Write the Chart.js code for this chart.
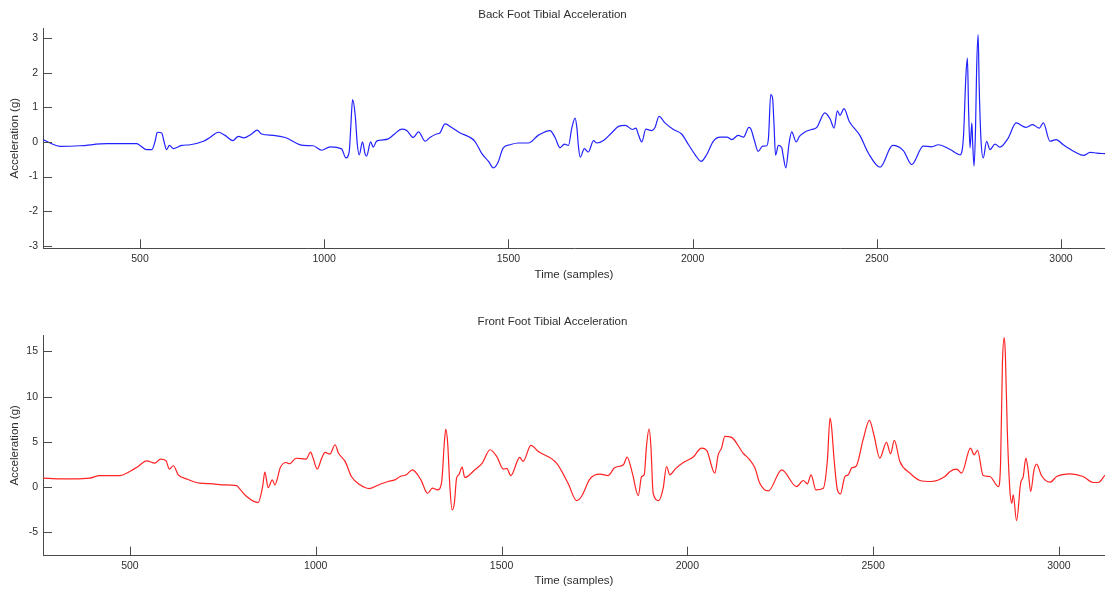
<!DOCTYPE html>
<html><head><meta charset="utf-8">
<script src="https://cdn.jsdelivr.net/npm/chart.js@4.4.1/dist/chart.umd.min.js"></script>
<style>
html,body{margin:0;padding:0;background:#fff;overflow:hidden;}
canvas{position:absolute;left:0;}
#c1{top:0;}
#c2{top:295px;}
</style></head><body>
<canvas id="c1" width="1105" height="295"></canvas>
<canvas id="c2" width="1105" height="294"></canvas>
<script>
// ---- data ----
const xTickValues = [500, 1000, 1500, 2000, 2500, 3000];
const backTickValues = [-3, -2, -1, 0, 1, 2, 3];
const frontTickValues = [-5, 0, 5, 10, 15];

const backX = [237,256,283,337,410,491,500,518,532,541,547,559,565,572,580,590,613,636,672,690,713,731,752,767,782,803,818,830,862,894,943,970,993,1016,1047,1059,1068,1072,1077,1084,1090,1095,1104,1111,1115,1126,1133,1142,1151,1174,1192,1210,1224,1242,1256,1274,1287,1305,1314,1328,1346,1369,1391,1409,1427,1446,1459,1471,1486,1504,1527,1554,1581,1613,1627,1640,1652,1663,1672,1681,1686,1690,1695,1706,1717,1731,1740,1758,1780,1799,1817,1837,1846,1853,1862,1873,1889,1898,1909,1925,1948,1970,1989,2007,2023,2038,2056,2075,2093,2106,2124,2138,2153,2158,2167,2178,2190,2201,2206,2212,2217,2221,2225,2233,2242,2246,2253,2262,2269,2281,2290,2305,2323,2337,2359,2373,2384,2393,2400,2411,2425,2454,2477,2509,2543,2572,2595,2626,2649,2667,2699,2726,2735,2742,2746,2749,2753,2758,2760,2764,2768,2771,2775,2778,2783,2789,2798,2807,2821,2834,2857,2878,2905,2923,2941,2952,2970,2987,3006,3038,3061,3079,3097,3120];
const backY = [0.07,-0.03,-0.125,-0.11,-0.05,-0.05,-0.1,-0.22,-0.22,0.02,0.28,0.26,0.02,-0.22,-0.1,-0.19,-0.1,-0.08,0.02,0.13,0.28,0.19,0.04,0.16,0.12,0.23,0.34,0.23,0.19,0.13,-0.1,-0.11,-0.24,-0.14,-0.2,-0.46,-0.27,0.4,1.22,0.79,-0.08,-0.37,0,-0.35,-0.41,0,-0.15,0.02,0.05,0.09,0.24,0.37,0.33,0.13,0.29,0.02,0.13,0.23,0.26,0.52,0.42,0.26,0.16,0.02,-0.32,-0.56,-0.75,-0.61,-0.17,-0.08,-0.03,-0.03,0.19,0.33,0.12,-0.17,-0.06,-0.1,0.4,0.69,0.4,-0.12,-0.44,-0.19,-0.29,0.04,-0.03,0.04,0.26,0.45,0.48,0.36,0.4,0.21,0,0.37,0.33,0.42,0.74,0.55,0.36,0.23,-0.08,-0.37,-0.56,-0.37,0.02,0.14,0.14,0.07,0.19,0.14,0.42,0.38,0.07,-0.27,-0.12,-0.11,0.12,1.37,1.27,0.5,-0.38,-0.1,-0.17,-0.41,-0.75,-0.03,0.29,0,0.16,0.29,0.36,0.42,0.84,0.67,0.4,0.9,0.77,0.96,0.6,0.19,-0.32,-0.73,-0.1,-0.25,-0.65,-0.12,-0.14,-0.08,-0.22,-0.37,0.12,1.94,2.42,0.98,-0.17,0.55,0.02,-0.7,0.4,2.13,3.1,1.56,0.02,-0.46,0.02,-0.22,-0.06,-0.15,0.12,0.55,0.42,0.5,0.4,0.55,0.02,0.07,-0.08,-0.29,-0.39,-0.3,-0.32,-0.34];

const frontX = [266,312,347,392,419,473,495,522,545,567,582,597,606,617,630,652,688,724,747,787,796,814,845,857,863,872,883,890,905,920,929,947,974,986,993,1004,1016,1025,1038,1052,1061,1079,1096,1119,1144,1173,1195,1213,1227,1244,1260,1283,1301,1314,1328,1339,1346,1350,1355,1361,1367,1373,1379,1385,1394,1401,1428,1448,1469,1487,1505,1514,1525,1549,1558,1579,1599,1648,1679,1702,1715,1738,1765,1787,1805,1828,1838,1852,1868,1877,1884,1890,1897,1902,1908,1923,1935,1944,1953,1967,1989,2016,2038,2052,2074,2083,2092,2101,2119,2150,2168,2182,2195,2218,2254,2294,2312,2323,2333,2346,2366,2377,2384,2388,2395,2404,2412,2424,2433,2442,2455,2473,2490,2502,2518,2536,2547,2557,2572,2599,2626,2657,2693,2707,2725,2738,2762,2772,2781,2796,2814,2837,2843,2848,2853,2856,2861,2868,2873,2877,2886,2897,2904,2911,2917,2924,2933,2940,2953,2976,2994,3030,3065,3092,3106,3124];
const frontY = [1.0,0.92,0.92,1.0,1.29,1.29,1.63,2.29,2.92,2.66,3.1,2.92,2.0,2.37,1.37,0.92,0.44,0.37,0.26,0.18,-0.22,-1.03,-1.7,0.07,1.66,-0.04,0.81,0.26,2.2,2.73,2.59,3.2,3.1,3.88,3.2,2.0,3.2,3.84,3.66,4.69,3.77,2.85,1.18,0.26,-0.15,0.33,0.63,0.81,1.18,1.37,1.92,0.81,-0.67,-0.11,-0.3,0.63,4.88,6.43,4.88,0.07,-2.51,-1.77,1.0,1.37,2.22,1.07,1.92,2.66,4.14,3.4,2.0,2.07,1.29,3.29,2.85,4.62,3.95,2.66,0.44,-1.48,-1.03,0.92,1.44,1.29,2.18,2.48,3.33,1.55,-0.92,1.18,1.37,4.51,6.43,4.51,-0.67,-1.48,-0.11,2.29,1.37,2.0,2.73,3.33,4.32,4.07,1.55,3.58,4.32,5.62,5.51,3.77,3.03,2.11,0.44,-0.41,1.92,0.07,0.74,0.37,1.37,-0.3,-0.11,3.03,7.65,6.73,3.03,-0.3,-0.74,1.18,1.37,2.11,2.37,5.25,7.39,5.8,3.22,4.95,3.7,5.17,2.85,1.55,0.74,0.63,1.18,1.74,2.0,1.55,4.32,3.58,4.07,1.29,1.18,0.07,2.66,13.75,16.52,14.49,6.36,-0.3,-1.77,-0.85,-3.7,0.44,1.18,3.22,1.92,-0.48,1.92,2.55,1.29,0.55,1.18,1.48,1.18,0.52,0.52,1.33];

// ---- rendering ----
const TEXT = '#2e2e2e';
const AXIS = '#4a4a4a';
const FONT = '"Liberation Sans", Arial, sans-serif';

const inwardTicks = {
  id: 'inwardTicks',
  afterDraw(chart) {
    const {ctx, chartArea: a, scales: {x, y}} = chart;
    ctx.save();
    ctx.strokeStyle = AXIS;
    ctx.lineWidth = 1;
    ctx.beginPath();
    x.ticks.forEach(t => {
      const p = Math.round(x.getPixelForValue(t.value)) + 0.5;
      ctx.moveTo(p, a.bottom); ctx.lineTo(p, a.bottom - 9);
    });
    y.ticks.forEach(t => {
      const p = Math.round(y.getPixelForValue(t.value)) + 0.5;
      ctx.moveTo(a.left, p); ctx.lineTo(a.left + 9, p);
    });
    ctx.stroke();
    ctx.restore();
  }
};

function makeChart(id, xs, ys, color, title, xr, yr, yTicks, lay) {
  const pts = xs.map((v, i) => ({x: v, y: ys[i]}));
  return new Chart(document.getElementById(id), {
    type: 'line',
    data: { datasets: [{ data: pts, borderColor: color, borderWidth: 1.2, pointRadius: 0,
      fill: false, cubicInterpolationMode: 'monotone' }] },
    options: {
      responsive: false, animation: false, devicePixelRatio: 1,
      layout: { padding: {left: 0, right: 0, top: 0, bottom: 0} },
      plugins: {
        legend: {display: false}, tooltip: {enabled: false},
        title: { display: true, text: title, color: TEXT,
          font: {family: FONT, size: 11.5, weight: 'normal', lineHeight: 1.2},
          padding: {top: lay.tTop, bottom: lay.tBot} }
      },
      scales: {
        x: {
          type: 'linear', min: xr[0], max: xr[1],
          afterBuildTicks: s => { s.ticks = xTickValues.map(v => ({value: v})); },
          afterFit: s => { s.height = lay.xH; },
          grid: {display: true, drawOnChartArea: false, drawTicks: false},
          border: {display: true, color: AXIS, width: 1},
          ticks: { color: TEXT, font: {family: FONT, size: 10.5}, padding: lay.xPad, maxRotation: 0,
            callback: v => String(v) },
          title: { display: true, text: 'Time (samples)', color: TEXT,
            font: {family: FONT, size: 11.5, lineHeight: 1.2}, padding: {top: 0, bottom: lay.xtPad} }
        },
        y: {
          type: 'linear', min: yr[0], max: yr[1],
          afterBuildTicks: s => { s.ticks = yTicks.map(v => ({value: v})); },
          afterFit: s => { s.width = 43; },
          grid: {display: true, drawOnChartArea: false, drawTicks: false},
          border: {display: true, color: AXIS, width: 1},
          ticks: { color: TEXT, font: {family: FONT, size: 10.5}, padding: 5,
            callback: v => String(v) },
          title: { display: true, text: 'Acceleration (g)', color: TEXT,
            font: {family: FONT, size: 11.5, lineHeight: 1.2}, padding: {top: 8, bottom: 0} }
        }
      }
    },
    plugins: [inwardTicks]
  });
}

makeChart('c1', backX, backY, '#2222ff', 'Back Foot Tibial Acceleration',
  [236.7, 3119.4], [-3.07, 3.29], backTickValues,
  {tTop: 8.1, tBot: 6.1, xH: 46.7, xPad: 4.4, xtPad: 13.1});
makeChart('c2', frontX, frontY, '#ff2222', 'Front Foot Tibial Acceleration',
  [266, 3124], [-7.57, 16.82], frontTickValues,
  {tTop: 19.8, tBot: 6.4, xH: 33.3, xPad: 3.7, xtPad: 1.1});
</script>
</body></html>
